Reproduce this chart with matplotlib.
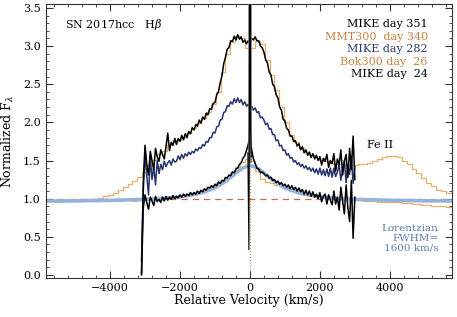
import matplotlib
matplotlib.use("Agg")
import matplotlib.pyplot as plt
from matplotlib.ticker import MultipleLocator
import numpy as np

plt.rcParams['font.family'] = 'DejaVu Serif'
plt.rcParams['mathtext.fontset'] = 'dejavuserif'

# MIKE echelle spectra, sampled every 50 km/s from -3100 to +3000
vel_mike = np.arange(-3100, 3001, 50)

mike_351 = [0.02, 1.22, 1.70, 1.45, 1.31, 1.62, 1.50, 1.38, 1.66, 1.55,
            1.49, 1.64, 1.58, 1.52, 1.68, 1.86, 1.63, 1.74, 1.70, 1.79,
            1.71, 1.79, 1.75, 1.83, 1.77, 1.85, 1.80, 1.88, 1.85, 1.93,
            1.90, 1.97, 1.95, 2.03, 1.99, 2.07, 2.04, 2.12, 2.10, 2.18,
            2.17, 2.25, 2.26, 2.36, 2.40, 2.52, 2.61, 2.77, 2.85, 2.96,
            2.98, 3.07, 3.06, 3.13, 3.08, 3.15, 3.09, 3.12, 3.05, 3.08,
            3.03, 3.07, 3.04, 3.10, 3.08, 3.12, 3.07, 3.07, 3.00, 2.98,
            2.92, 2.82, 2.78, 2.66, 2.62, 2.50, 2.47, 2.36, 2.32, 2.20,
            2.16, 2.04, 2.02, 1.92, 1.90, 1.82, 1.82, 1.75, 1.76, 1.69,
            1.72, 1.64, 1.68, 1.60, 1.64, 1.57, 1.61, 1.54, 1.59, 1.52,
            1.57, 1.50, 1.55, 1.44, 1.53, 1.49, 1.58, 1.41, 1.50, 1.46,
            1.59, 1.36, 1.52, 1.45, 1.64, 1.31, 1.49, 1.58, 1.28, 1.66,
            1.38, 1.82, 1.25]

mike_282 = [0.18, 1.10, 1.58, 1.30, 1.05, 1.55, 1.25, 1.42, 1.18, 1.50,
            1.33, 1.45, 1.38, 1.49, 1.42, 1.47, 1.50, 1.44, 1.52, 1.48,
            1.49, 1.56, 1.51, 1.58, 1.53, 1.59, 1.56, 1.61, 1.58, 1.62,
            1.60, 1.65, 1.63, 1.67, 1.66, 1.71, 1.69, 1.75, 1.74, 1.80,
            1.80, 1.87, 1.86, 1.94, 1.95, 2.03, 2.04, 2.13, 2.14, 2.22,
            2.21, 2.27, 2.24, 2.31, 2.26, 2.32, 2.26, 2.30, 2.23, 2.27,
            2.21, 2.24, 2.18, 2.21, 2.16, 2.19, 2.13, 2.14, 2.06, 2.07,
            2.03, 1.97, 1.99, 1.91, 1.92, 1.84, 1.84, 1.76, 1.77, 1.69,
            1.70, 1.63, 1.64, 1.57, 1.59, 1.53, 1.54, 1.48, 1.50, 1.45,
            1.47, 1.42, 1.45, 1.40, 1.43, 1.38, 1.41, 1.36, 1.40, 1.34,
            1.39, 1.32, 1.40, 1.31, 1.38, 1.30, 1.39, 1.29, 1.40, 1.28,
            1.40, 1.29, 1.35, 1.45, 1.24, 1.38, 1.50, 1.21, 1.44, 1.32,
            1.56, 1.20, 1.42]

mike_24 = [0.00, 0.88, 1.05, 0.95, 0.86, 1.02, 0.97, 0.91, 1.03, 0.96,
           0.99, 0.95, 1.02, 0.97, 1.03, 0.98, 1.02, 0.99, 1.04, 1.00,
           1.03, 1.01, 1.05, 1.02, 1.06, 1.03, 1.06, 1.04, 1.08, 1.05,
           1.08, 1.06, 1.10, 1.07, 1.11, 1.09, 1.13, 1.11, 1.15, 1.14,
           1.17, 1.15, 1.19, 1.17, 1.22, 1.20, 1.24, 1.23, 1.28, 1.27,
           1.31, 1.30, 1.35, 1.34, 1.39, 1.40, 1.45, 1.47, 1.53, 1.56,
           1.63, 1.71, 1.80, 1.64, 1.52, 1.46, 1.40, 1.39, 1.34, 1.35,
           1.33, 1.30, 1.31, 1.27, 1.28, 1.24, 1.25, 1.21, 1.23, 1.19,
           1.21, 1.17, 1.19, 1.15, 1.18, 1.13, 1.17, 1.12, 1.15, 1.10,
           1.14, 1.09, 1.12, 1.06, 1.11, 1.05, 1.10, 1.03, 1.09, 1.02,
           1.06, 1.00, 1.08, 0.96, 1.03, 1.06, 0.93, 1.05, 0.98, 0.92,
           1.10, 0.93, 1.02, 0.85, 1.15, 0.97, 0.80, 1.18, 0.88, 0.70,
           1.24, 0.48, 1.02]

# narrow Hb component at rest velocity
narrow_v = [-60, -30, -20, -5, 5, 20, 40]
narrow_f = [1.60, 0.33, 1.50, 4.00, 4.00, 1.90, 1.55]

# low-res spectra, 140 km/s bins from -5810 to +5810
vel_lowres = np.arange(-5810, 5811, 140)

mmt_340 = [0.97, 0.97, 0.96, 0.97, 0.97, 0.97, 0.98, 0.97, 0.98, 0.98,
           0.99, 1.01, 1.03, 1.05, 1.08, 1.11, 1.15, 1.19, 1.23, 1.28,
           1.35, 1.44, 1.51, 1.58, 1.63, 1.70, 1.74, 1.77, 1.81, 1.86,
           1.92, 1.99, 2.06, 2.14, 2.24, 2.40, 2.66, 2.90, 3.06, 3.13,
           3.10, 2.98, 2.97, 3.07, 3.03, 2.82, 2.62, 2.42, 2.20, 2.00,
           1.84, 1.74, 1.67, 1.61, 1.57, 1.54, 1.51, 1.49, 1.47, 1.46,
           1.45, 1.44, 1.44, 1.44, 1.45, 1.46, 1.47, 1.49, 1.52, 1.55,
           1.56, 1.56, 1.54, 1.50, 1.45, 1.39, 1.33, 1.27, 1.21, 1.16,
           1.12, 1.10, 1.08, 1.07]

bok_26 = [0.98, 0.97, 0.98, 0.97, 0.97, 0.98, 0.97, 0.97, 0.98, 0.97,
          0.97, 0.98, 0.97, 0.97, 0.98, 0.97, 0.98, 0.98, 0.97, 0.98,
          0.98, 0.99, 0.99, 1.00, 1.00, 1.01, 1.02, 1.03, 1.04, 1.05,
          1.07, 1.09, 1.11, 1.14, 1.17, 1.20, 1.24, 1.29, 1.35, 1.42,
          1.48, 1.52, 1.50, 1.36, 1.26, 1.22, 1.20, 1.18, 1.16, 1.14,
          1.12, 1.10, 1.08, 1.07, 1.05, 1.04, 1.03, 1.02, 1.01, 1.00,
          1.00, 0.99, 0.99, 0.98, 0.98, 0.97, 0.97, 0.97, 0.96, 0.96,
          0.96, 0.95, 0.95, 0.94, 0.94, 0.93, 0.93, 0.92, 0.92, 0.91,
          0.90, 0.90, 0.89, 0.89]

# Lorentzian, FWHM = 1600 km/s
lor_v = [-5800, -5000, -4000, -3000, -2500, -2000, -1600, -1400, -1200, -1000,
         -800, -700, -600, -500, -400, -300, -200, -100, 0, 100, 200, 300,
         400, 500, 600, 700, 800, 1000, 1200, 1400, 1600, 2000, 2500, 3000,
         4000, 5000, 5800]
lor_f = [0.969, 0.972, 0.978, 0.991, 1.004, 1.025, 1.054, 1.076, 1.105, 1.143,
         1.195, 1.226, 1.261, 1.298, 1.336, 1.372, 1.402, 1.423, 1.430, 1.423,
         1.402, 1.372, 1.336, 1.298, 1.261, 1.226, 1.195, 1.143, 1.105, 1.076,
         1.054, 1.025, 1.004, 0.991, 0.978, 0.972, 0.969]

legend_labels = ['MIKE day 351', 'MMT300  day 340', 'MIKE day 282',
                 'Bok300 day  26', 'MIKE day  24']
legend_colors = ['black', '#c8843f', '#2b3870', '#c8843f', 'black']

orange = '#e8b06a'
navy = '#27346e'
lor_blue = '#94b3da'

fig = plt.figure(figsize=(4.57, 3.17), dpi=100)
ax = fig.add_axes([0.1, 0.123, 0.89, 0.864])

ax.axvline(0, color='#d08a40', lw=0.8, ls=':', zorder=0.5)
ax.plot(vel_lowres, mmt_340, drawstyle='steps-mid', color=orange, lw=0.9, zorder=1)
ax.plot(vel_lowres, bok_26, drawstyle='steps-mid', color=orange, lw=0.9, zorder=1)
ax.axhline(1.0, color='#c46a4c', lw=0.9, ls=(0, (5, 4)), zorder=1.5)
ax.plot(lor_v, lor_f, color=lor_blue, lw=2.6, zorder=2)

ax.plot(vel_mike, mike_24, color='black', lw=1.1, zorder=3)
ax.plot(vel_mike, mike_282, color=navy, lw=1.1, zorder=3)
ax.plot(vel_mike, mike_351, color='black', lw=1.1, zorder=3.2)
ax.plot([0, 0], [1.5, 3.7], color='#7a7a7a', lw=2.6, zorder=3.3)
ax.plot(narrow_v, narrow_f, color='black', lw=0.8, zorder=3.4)

ax.set_xlim(-5840, 5790)
ax.set_ylim(-0.04, 3.55)
ax.xaxis.set_major_locator(MultipleLocator(2000))
ax.xaxis.set_minor_locator(MultipleLocator(400))
ax.yaxis.set_major_locator(MultipleLocator(0.5))
ax.yaxis.set_minor_locator(MultipleLocator(0.1))
ax.yaxis.set_major_formatter(plt.FormatStrFormatter('%.1f'))
ax.tick_params(which='both', direction='in', top=True, right=True, labelsize=8,
               color='#333333')
ax.tick_params(which='major', length=5)
ax.tick_params(which='minor', length=2.5)
for sp in ax.spines.values():
    sp.set_color('#333333')

ax.set_xlabel('Relative Velocity (km/s)', fontsize=9, labelpad=1)
ax.set_ylabel(r'Normalized F$_\lambda$', fontsize=9, labelpad=5)

ax.text(-5290, 3.28, r'SN 2017hcc   H$\beta$', fontsize=8, va='center')
for k, (lab, col) in enumerate(zip(legend_labels, legend_colors)):
    ax.text(5090, 3.29 - k * 0.165, lab, fontsize=8, color=col, ha='right', va='center')
ax.text(3340, 1.70, 'Fe II', fontsize=8, va='center')
for k, lab in enumerate(['Lorentzian', 'FWHM=', '1600 km/s']):
    ax.text(5400, 0.61 - k * 0.13, lab, fontsize=7.5, color='#5a80b5', ha='right', va='center')

fig.savefig('out.png', dpi=100)
